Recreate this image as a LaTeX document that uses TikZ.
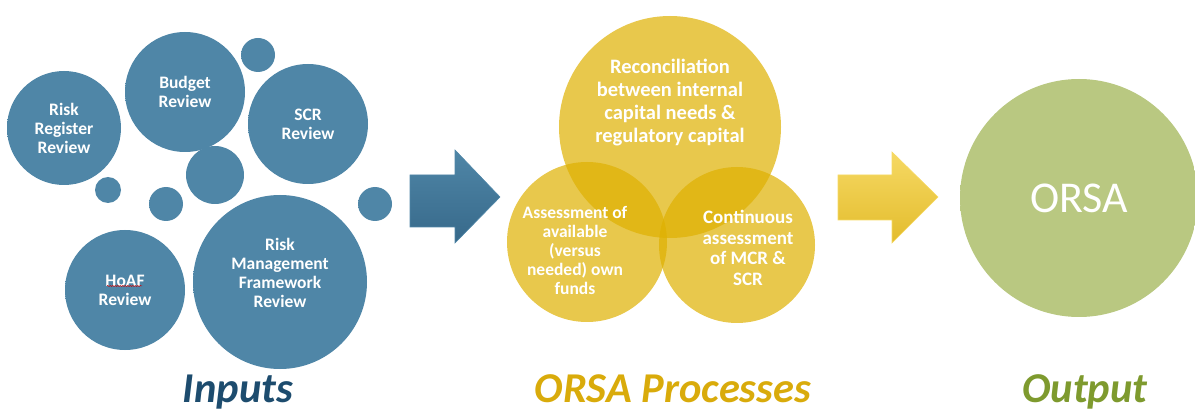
\documentclass[tikz,border=0pt]{standalone}
\usepackage{fontspec}
\setmainfont{Carlito}
\usetikzlibrary{decorations.pathmorphing}

\definecolor{bluein}{HTML}{4F86A7}
\definecolor{blueout}{HTML}{37698A}
\definecolor{goldfill}{RGB}{222,176,0}
\definecolor{greenin}{HTML}{B9C881}
\definecolor{greenout}{HTML}{A9BA6C}
\definecolor{inputblue}{HTML}{1D4C6E}
\definecolor{procgold}{HTML}{D9AB0B}
\definecolor{outgreen}{HTML}{7E9A2E}
\definecolor{arrowgold}{HTML}{E3BC2C}
\definecolor{arrowgoldlight}{HTML}{F6D964}

\pgfdeclareradialshading{bubbleblue}{\pgfpoint{0bp}{0bp}}{color(0bp)=(bluein); color(38bp)=(bluein); color(50bp)=(blueout)}
\pgfdeclareradialshading{bubblegreen}{\pgfpoint{0bp}{0bp}}{color(0bp)=(greenin); color(40bp)=(greenin); color(50bp)=(greenout)}

\tikzset{
  bubble/.style = {circle, inner sep=0pt, minimum size=#1, shading=bubbleblue,
                   text=white, align=center, font=\bfseries\fontsize{17.5}{19}\selectfont},
  dot/.style = {circle, inner sep=0pt, minimum size=#1, shading=bubbleblue},
  process/.style = {circle, inner sep=0pt, minimum size=#1, fill=goldfill, fill opacity=0.7},
  proctext/.style 2 args = {text=white, align=center, font=\bfseries\fontsize{#1}{#2}\selectfont},
  heading/.style = {anchor=base, inner sep=0pt, font=\bfseries\itshape\fontsize{42.5}{46}\selectfont},
  bigarrow/.style 2 args = {draw=#2, line width=0.6pt, top color=#2, bottom color=#1}
}

\begin{document}
\begin{tikzpicture}[x=1pt, y=-1pt]
\useasboundingbox (0,0) rectangle (1195,414);

% inputs
\node[bubble=114pt] (register) at (64,128) {Risk\\Register\\Review};
\node[bubble=120pt] (budget) at (185,92) {Budget\\Review};
\node[bubble=120pt] (scr) at (308,124) {SCR\\Review};
\node[bubble=120pt] (hoaf) at (125,290) {HoAF\\Review};
\node[bubble=174pt] (rmf) at (280,282) {};
\node[bubble=10pt] at ([yshift=9pt]rmf.center) {Risk\\Management\\Framework\\Review};
\node[dot=34pt] (dot1) at (258,55) {};
\node[dot=58pt] (dot2) at (215,175) {};
\node[dot=26pt] (dot3) at (108,190) {};
\node[dot=34pt] (dot4) at (166,204) {};
\node[dot=34pt] (dot5) at (375,204) {};
\draw[red!80!black, line width=0.5pt, decorate, decoration={snake, amplitude=0.6pt, segment length=2.5pt}]
  ([xshift=-18pt, yshift=4pt]hoaf.center) -- ([xshift=17pt, yshift=4pt]hoaf.center);

\draw[bigarrow={blueout}{bluein}] (410,175) -- (455,175) -- (455,150) -- (500,197)
  -- (455,243) -- (455,227) -- (410,227) -- cycle;

% processes
\node[process=222pt] (recon) at (670,127) {};
\node[process=160pt] (funds) at (587,242) {};
\node[process=156pt] (mcr) at (737,245) {};
\node[proctext={20.5}{23}] at ([yshift=24pt]recon.center)
  {Reconciliation\\between internal\\capital needs \&\\regulatory capital};
\node[proctext={17.5}{19}] at ([xshift=-12pt, yshift=-8pt]funds.center)
  {Assessment of\\available\\(versus\\needed) own\\funds};
\node[proctext={19}{20.5}] at ([xshift=11pt, yshift=-3pt]mcr.center)
  {Continuous\\assessment\\of MCR \&\\SCR};

\draw[bigarrow={arrowgold}{arrowgoldlight}] (838,175) -- (892,175) -- (892,152) -- (938,197)
  -- (892,243) -- (892,220) -- (838,220) -- cycle;

% output
\node[circle, inner sep=0pt, minimum size=238pt, shading=bubblegreen, text=white,
      font=\fontsize{44}{48}\selectfont] (orsa) at (1079,198) {ORSA};

% headings
\node[heading, text=inputblue] (inputs) at (238,402) {Inputs};
\node[heading, text=procgold] (processes) at (673,402) {ORSA Processes};
\node[heading, text=outgreen] (output) at (1085,402) {Output};
\end{tikzpicture}
\end{document}
